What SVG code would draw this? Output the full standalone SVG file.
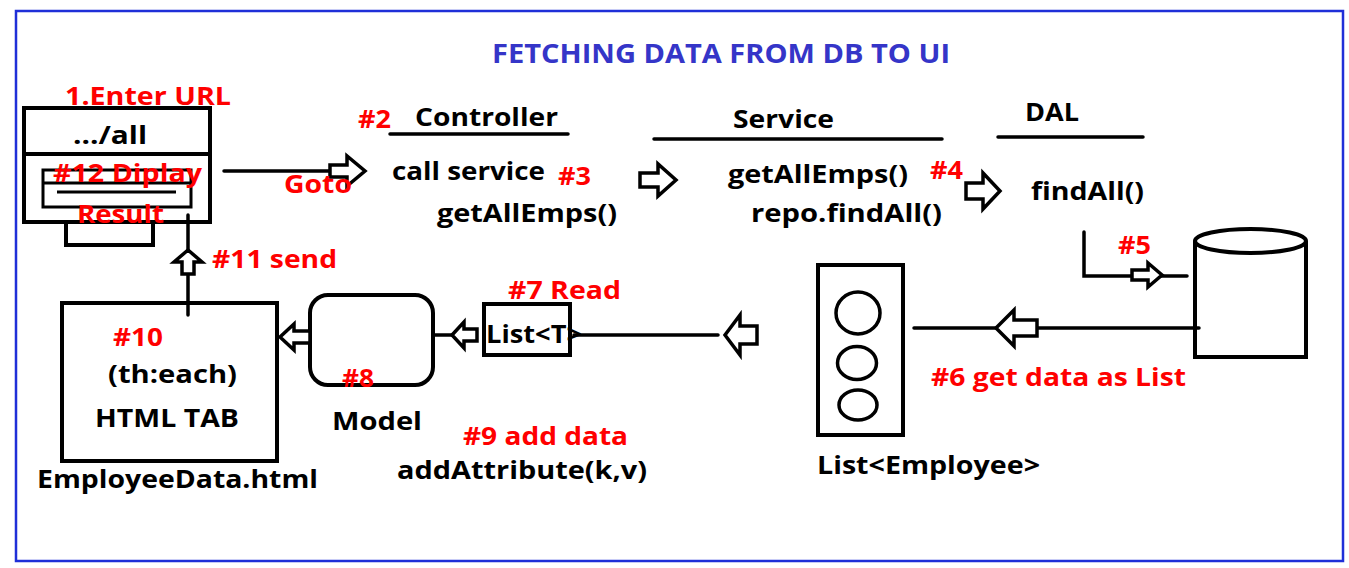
<svg xmlns="http://www.w3.org/2000/svg" width="1349" height="568" viewBox="0 0 1349 568">
<style>
.t{font-family:"Open Sans","Noto Sans","Liberation Sans",sans-serif;font-weight:700;font-size:25px;fill:#000}
.r{fill:#f00}
.ttl{fill:#3535c8;font-size:27px}
.s{fill:none;stroke:#000;stroke-width:4}
.ln{fill:none;stroke:#000;stroke-width:3.5;stroke-linecap:round}
.ar{fill:#fff;stroke:#000;stroke-width:3.5;stroke-linejoin:miter}
</style>
<rect x="0" y="0" width="1349" height="568" fill="#fff"/>
<rect x="16" y="11" width="1327" height="550" fill="none" stroke="#1f2fd8" stroke-width="2.5"/>

<g id="title">
<text class="t ttl" x="492" y="63" textLength="458" lengthAdjust="spacingAndGlyphs">FETCHING DATA FROM DB TO UI</text>
</g>

<g id="browser">
<rect class="s" x="24" y="108" width="186" height="114" fill="#fff"/>
<line class="s" x1="24" y1="154" x2="210" y2="154"/>
<rect x="43" y="170" width="148" height="37" fill="none" stroke="#000" stroke-width="3"/>
<line x1="43" y1="183" x2="191" y2="183" stroke="#000" stroke-width="3"/>
<line x1="57" y1="192" x2="176" y2="192" stroke="#000" stroke-width="3"/>
<rect class="s" x="66" y="222" width="87" height="23"/>
<text class="t" x="73" y="144" textLength="74" lengthAdjust="spacingAndGlyphs">.../all</text>
<text class="t r" x="65" y="105" textLength="166" lengthAdjust="spacingAndGlyphs">1.Enter URL</text>
<text class="t r" x="53" y="182" textLength="149" lengthAdjust="spacingAndGlyphs">#12 Diplay</text>
<text class="t r" x="77" y="223" textLength="87" lengthAdjust="spacingAndGlyphs">Result</text>
</g>

<g id="controller">
<line class="ln" x1="390" y1="134" x2="568" y2="134"/>
<text class="t" x="415" y="126" textLength="143" lengthAdjust="spacingAndGlyphs">Controller</text>
<text class="t" x="392" y="180" textLength="153" lengthAdjust="spacingAndGlyphs">call service</text>
<text class="t" x="437" y="222" textLength="180" lengthAdjust="spacingAndGlyphs">getAllEmps()</text>
<text class="t r" x="358" y="128" textLength="33" lengthAdjust="spacingAndGlyphs">#2</text>
<text class="t r" x="558" y="185" textLength="33" lengthAdjust="spacingAndGlyphs">#3</text>
</g>

<g id="service">
<line class="ln" x1="654" y1="139" x2="942" y2="139"/>
<text class="t" x="733" y="128" textLength="101" lengthAdjust="spacingAndGlyphs">Service</text>
<text class="t" x="728" y="183" textLength="180" lengthAdjust="spacingAndGlyphs">getAllEmps()</text>
<text class="t" x="751" y="222" textLength="191" lengthAdjust="spacingAndGlyphs">repo.findAll()</text>
<text class="t r" x="930" y="179" textLength="33" lengthAdjust="spacingAndGlyphs">#4</text>
</g>

<g id="dal">
<line class="ln" x1="998" y1="137" x2="1143" y2="137"/>
<text class="t" x="1025" y="121" textLength="54" lengthAdjust="spacingAndGlyphs">DAL</text>
<text class="t" x="1031" y="200" textLength="113" lengthAdjust="spacingAndGlyphs">findAll()</text>
</g>

<g id="database">
<path class="s" d="M1195,241 V357 H1306 V241"/>
<ellipse class="s" cx="1250.5" cy="241" rx="55.5" ry="12" fill="#fff"/>
</g>

<g id="employee-list">
<rect class="s" x="818" y="265" width="85" height="170" fill="#fff"/>
<ellipse cx="858" cy="313" rx="22" ry="21" fill="none" stroke="#000" stroke-width="3.5"/>
<ellipse cx="857" cy="363" rx="19.5" ry="16.5" fill="none" stroke="#000" stroke-width="3.5"/>
<ellipse cx="858" cy="405" rx="19" ry="15" fill="none" stroke="#000" stroke-width="3.5"/>
<text class="t" x="817" y="474" textLength="223" lengthAdjust="spacingAndGlyphs">List&lt;Employee&gt;</text>
</g>

<g id="list-t">
<rect class="s" x="484" y="304" width="86" height="51" fill="#fff"/>
<text class="t" x="486" y="343" font-weight="600" font-size="26" textLength="96" lengthAdjust="spacingAndGlyphs">List&lt;T&gt;</text>
<text class="t r" x="508" y="299" textLength="113" lengthAdjust="spacingAndGlyphs">#7 Read</text>
</g>

<g id="model">
<rect class="s" x="310" y="295" width="123" height="90" rx="18" fill="#fff"/>
<text class="t r" x="342" y="387" textLength="32" lengthAdjust="spacingAndGlyphs">#8</text>
<text class="t" x="332" y="430" textLength="90" lengthAdjust="spacingAndGlyphs">Model</text>
<text class="t r" x="463" y="445" textLength="165" lengthAdjust="spacingAndGlyphs">#9 add data</text>
<text class="t" x="397" y="479" textLength="250" lengthAdjust="spacingAndGlyphs">addAttribute(k,v)</text>
</g>

<g id="html-page">
<rect class="s" x="62" y="303" width="215" height="158" fill="#fff"/>
<text class="t r" x="113" y="346" textLength="50" lengthAdjust="spacingAndGlyphs">#10</text>
<text class="t" x="108" y="383" textLength="129" lengthAdjust="spacingAndGlyphs">(th:each)</text>
<text class="t" x="95" y="427" textLength="144" lengthAdjust="spacingAndGlyphs">HTML TAB</text>
<text class="t" x="37" y="488" textLength="281" lengthAdjust="spacingAndGlyphs">EmployeeData.html</text>
</g>

<g id="connectors">
<line class="ln" x1="224" y1="171" x2="332" y2="171"/>
<polygon class="ar" points="330,165 347,165 347,156 365,171 347,186 347,177 330,177"/>
<polygon class="ar" points="640,173 658,173 658,164 676,180 658,196 658,187 640,187"/>
<polygon class="ar" points="966,183 983,183 983,173 1000,191 983,209 983,199 966,199"/>
<path class="ln" d="M1084,232 V276 H1187"/>
<polygon class="ar" points="1132,270 1148,270 1148,263 1162,275 1148,287 1148,280 1132,280"/>
<line class="ln" x1="914" y1="328" x2="1199" y2="328"/>
<polygon class="ar" points="1037,320 1014,320 1014,310 996,328 1014,346 1014,336 1037,336"/>
<line class="ln" x1="574" y1="335" x2="718" y2="335"/>
<polygon class="ar" points="757,326 740,326 740,315 725,335 740,355 740,344 757,344"/>
<line class="ln" x1="433" y1="335" x2="454" y2="335"/>
<polygon class="ar" points="477,329 464,329 464,322 452,335 464,348 464,341 477,341"/>
<polygon class="ar" points="310,331 294,331 294,324 280,337 294,350 294,343 310,343"/>
<line class="ln" x1="188" y1="215" x2="188" y2="315"/>
<polygon class="ar" points="182,274 182,262 174,262 188,250 202,262 194,262 194,274"/>
</g>

<g id="step-labels">
<text class="t r" x="284" y="193" textLength="68" lengthAdjust="spacingAndGlyphs">Goto</text>
<text class="t r" x="212" y="268" textLength="125" lengthAdjust="spacingAndGlyphs">#11 send</text>
<text class="t r" x="1118" y="254" textLength="33" lengthAdjust="spacingAndGlyphs">#5</text>
<text class="t r" x="931" y="386" textLength="255" lengthAdjust="spacingAndGlyphs">#6 get data as List</text>
</g>
</svg>
